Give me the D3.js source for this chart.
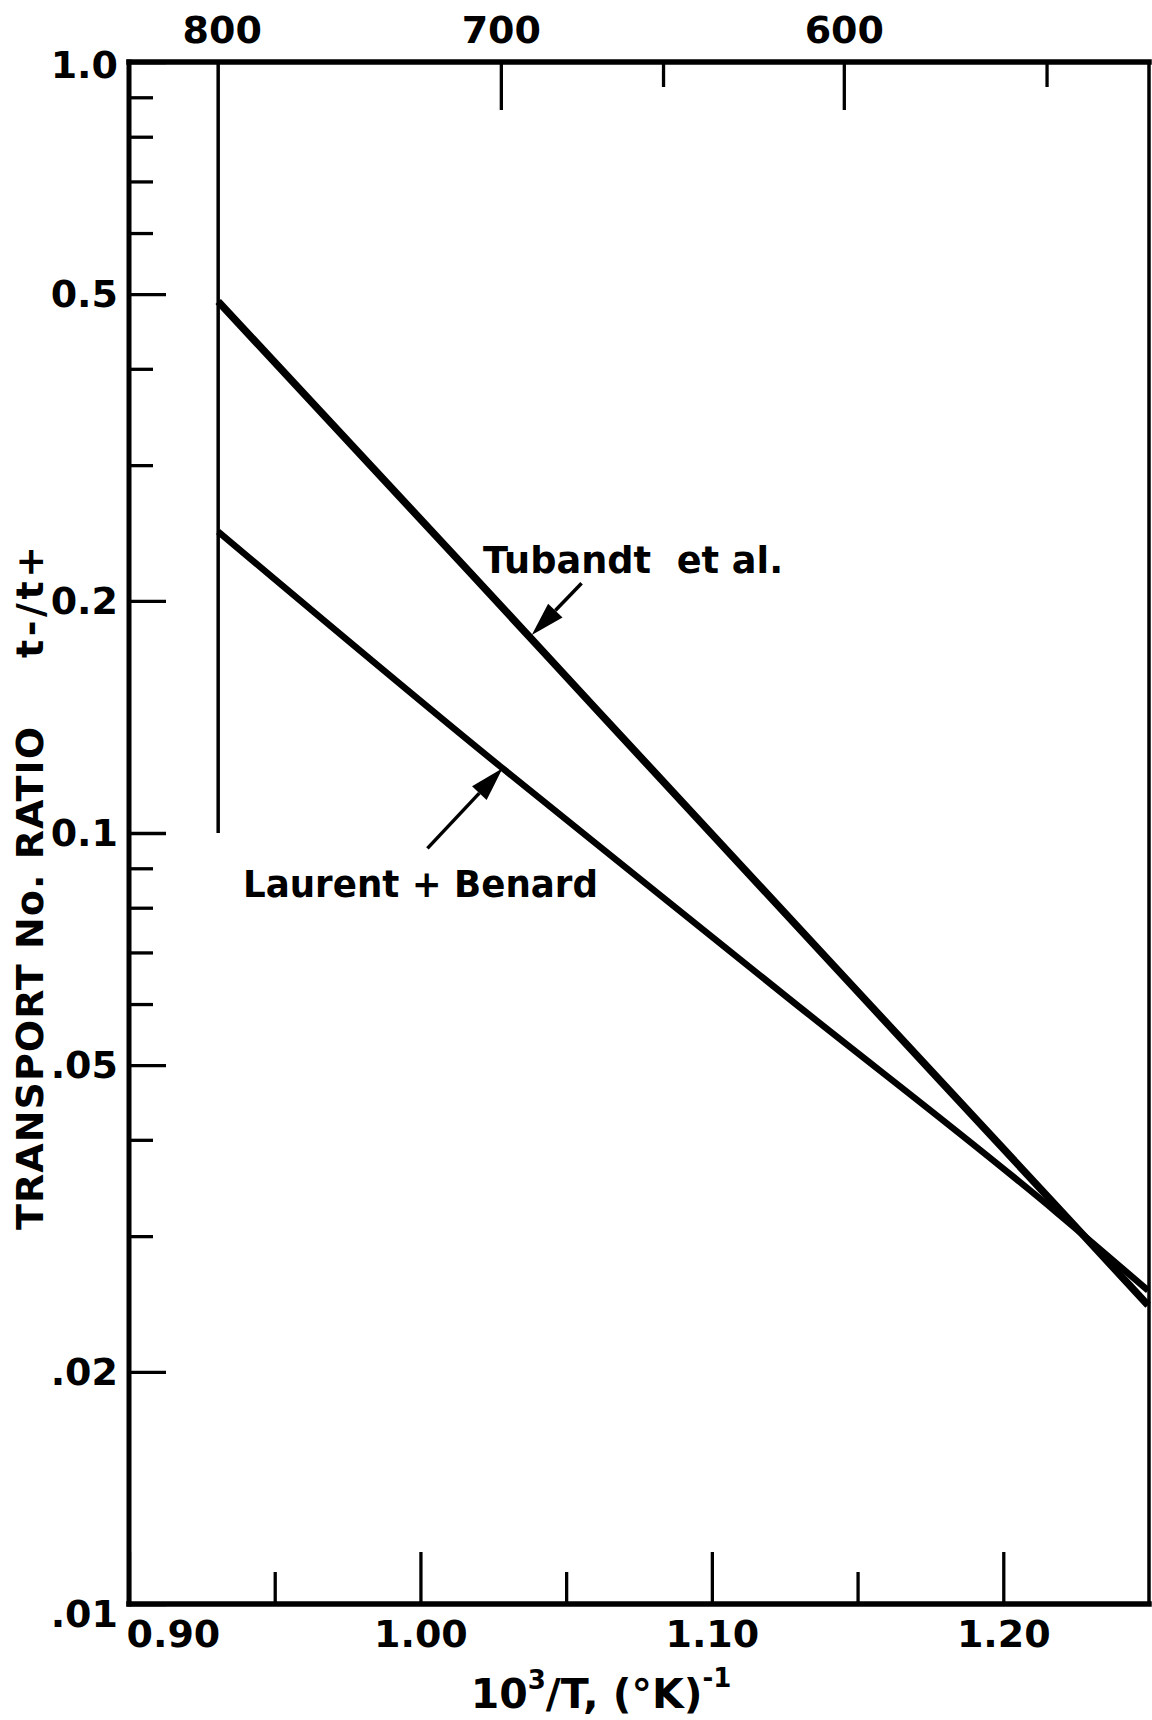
<!DOCTYPE html>
<html>
<head>
<meta charset="utf-8">
<script src="https://cdn.jsdelivr.net/npm/d3@7"></script>
<style>
  body { margin: 0; background: #fff; }
  svg { display: block; font-family: 'DejaVu Sans', sans-serif; font-weight: bold; }
</style>
</head>
<body>
<svg id="chart" width="1152" height="1720"></svg>
<script>
// values (x = 10^3/T, y = t-/t+)
const tubandtX = [0.9306, 1.0159, 1.0616, 1.1531, 1.2183, 1.2497];
const tubandtY = [0.489, 0.220, 0.143, 0.0605, 0.0328, 0.0244];
const laurentX = [0.9306, 1.0282, 1.0616, 1.1257, 1.2183, 1.2497];
const laurentY = [0.246, 0.1213, 0.096, 0.0613, 0.0322, 0.0255];

const xMajor = [0.90, 1.00, 1.10, 1.20];
const xMinor = [0.95, 1.05, 1.15];
const yMajor = [1.0, 0.5, 0.2, 0.1, 0.05, 0.02, 0.01];
const yLabels = ['1.0', '0.5', '0.2', '0.1', '.05', '.02', '.01'];
const yMinor = [0.9, 0.8, 0.7, 0.6, 0.4, 0.3, 0.09, 0.08, 0.07, 0.06, 0.04, 0.03];
const tempMajor = [800, 700, 600];   // deg C, top scale
const tempMinor = [650, 550];

const svg = d3.select('#chart');
const W = +svg.attr('width');
const H = +svg.attr('height');
const margin = {left: 129, right: 3, top: 62, bottom: 116};
const fontSize = 38;

const x = d3.scaleLinear().domain([0.90, 1.25]).range([margin.left, W - margin.right]);
const y = d3.scaleLog().domain([0.01, 1]).range([H - margin.bottom, margin.top]);
const toInv = t => 1000 / (t + 273.15);

function styleAxis(g) {
    g.attr('font-family', null).attr('font-size', null);
    g.select('.domain').remove();
    g.selectAll('.tick line').attr('stroke', '#000').attr('stroke-width', 3.3);
    g.selectAll('.tick text').attr('fill', '#000').attr('font-size', fontSize);
}

// bottom axis
const xAxisG = svg.append('g')
    .attr('transform', `translate(0,${y(0.01)})`)
    .call(d3.axisBottom(x).tickValues(xMajor).tickSize(-52).tickPadding(16).tickFormat(d3.format('.2f')))
    .call(styleAxis);
xAxisG.selectAll('.tick text').filter(d => d === 0.90).attr('text-anchor', 'start').attr('x', -3);
svg.append('g')
    .attr('transform', `translate(0,${y(0.01)})`)
    .call(d3.axisBottom(x).tickValues(xMinor).tickSize(-32).tickFormat(''))
    .call(styleAxis);

// left axis
const yAxisG = svg.append('g')
    .attr('transform', `translate(${x(0.9)},0)`)
    .call(d3.axisLeft(y).tickValues(yMajor).tickSize(-37).tickPadding(11).tickFormat((d, i) => yLabels[i]))
    .call(styleAxis);
yAxisG.selectAll('.tick text').filter(d => d === 0.01).attr('y', 10);
yAxisG.selectAll('.tick text').filter(d => d === 1.0).attr('y', 3);
svg.append('g')
    .attr('transform', `translate(${x(0.9)},0)`)
    .call(d3.axisLeft(y).tickValues(yMinor).tickSize(-24).tickFormat(''))
    .call(styleAxis);

// top axis, temperature in deg C
const topG = svg.append('g')
    .attr('transform', `translate(0,${y(1)})`)
    .call(d3.axisTop(x).tickValues(tempMajor.map(toInv)).tickSize(-48).tickPadding(19)
        .tickFormat((d, i) => tempMajor[i]))
    .call(styleAxis);
topG.selectAll('.tick').filter((d, i) => i === 0).select('line').remove();
svg.append('g')
    .attr('transform', `translate(0,${y(1)})`)
    .call(d3.axisTop(x).tickValues(tempMinor.map(toInv)).tickSize(-25).tickFormat(''))
    .call(styleAxis);

// frame
const frame = [
    {x1: x(0.9), y1: y(1), x2: x(0.9), y2: y(0.01), w: 5},
    {x1: x(0.9), y1: y(0.01), x2: x(1.25), y2: y(0.01), w: 5.5},
    {x1: x(0.9), y1: y(1), x2: x(1.25), y2: y(1), w: 5.5},
    {x1: x(1.25), y1: y(1), x2: x(1.25), y2: y(0.01), w: 3.5}
];
svg.append('g').selectAll('line').data(frame).enter().append('line')
    .attr('x1', d => d.x1).attr('y1', d => d.y1)
    .attr('x2', d => d.x2).attr('y2', d => d.y2)
    .attr('stroke', '#000').attr('stroke-width', d => d.w)
    .attr('stroke-linecap', 'square');

// 800 C marker line
svg.append('line')
    .attr('x1', x(tubandtX[0])).attr('x2', x(tubandtX[0]))
    .attr('y1', y(1)).attr('y2', y(0.1))
    .attr('stroke', '#000').attr('stroke-width', 3.5);

// curves
const line = d3.line().x(d => x(d[0])).y(d => y(d[1])).curve(d3.curveMonotoneX);
const series = [
    {pts: d3.zip(tubandtX, tubandtY), w: 7.5},
    {pts: d3.zip(laurentX, laurentY), w: 6.5}
];
svg.append('g').selectAll('path').data(series).enter().append('path')
    .attr('d', d => line(d.pts))
    .attr('fill', 'none')
    .attr('stroke', '#000')
    .attr('stroke-width', d => d.w)
    .attr('stroke-linejoin', 'round');

// annotations
const notes = [
    {text: 'Tubandt  et al.', tx: 1.0215, ty: 0.2175, len: 300,
     from: [1.0553, 0.2108], to: [1.0382, 0.1806]},
    {text: 'Laurent + Benard', tx: 0.9391, ty: 0.0826, len: 355,
     from: [1.0024, 0.0955], to: [1.0282, 0.1213]}
];
notes.forEach(n => {
    svg.append('text')
        .attr('x', x(n.tx)).attr('y', y(n.ty))
        .attr('font-size', fontSize)
        .attr('textLength', n.len)
        .attr('lengthAdjust', 'spacingAndGlyphs')
        .style('white-space', 'pre')
        .text(n.text);
    const x0 = x(n.from[0]), y0 = y(n.from[1]);
    const x1 = x(n.to[0]), y1 = y(n.to[1]);
    const dx = x1 - x0, dy = y1 - y0;
    const L = Math.hypot(dx, dy);
    const ux = dx / L, uy = dy / L;
    const hl = 34, hw = 10;
    const bx = x1 - ux * hl, by = y1 - uy * hl;
    svg.append('line')
        .attr('x1', x0).attr('y1', y0).attr('x2', bx).attr('y2', by)
        .attr('stroke', '#000').attr('stroke-width', 3.5);
    svg.append('path')
        .attr('d', `M${x1},${y1}L${bx - uy * hw},${by + ux * hw}L${bx + uy * hw},${by - ux * hw}Z`)
        .attr('fill', '#000');
});

// axis titles
svg.append('text')
    .attr('transform', `translate(43,1230) rotate(-90)`)
    .attr('font-size', fontSize)
    .attr('textLength', 503)
    .text('TRANSPORT No. RATIO');
svg.append('text')
    .attr('transform', `translate(43,658) rotate(-90)`)
    .attr('font-size', fontSize)
    .attr('textLength', 112)
    .text('t-/t+');

const xt = svg.append('text')
    .attr('x', 601).attr('y', 1708)
    .attr('text-anchor', 'middle')
    .attr('font-size', 41);
xt.append('tspan').text('10');
xt.append('tspan').attr('font-size', 26).attr('dy', -19).text('3');
xt.append('tspan').attr('dy', 19).text('/T, (\u00b0K)');
xt.append('tspan').attr('font-size', 26).attr('dy', -21).text('-1');
</script>
</body>
</html>
